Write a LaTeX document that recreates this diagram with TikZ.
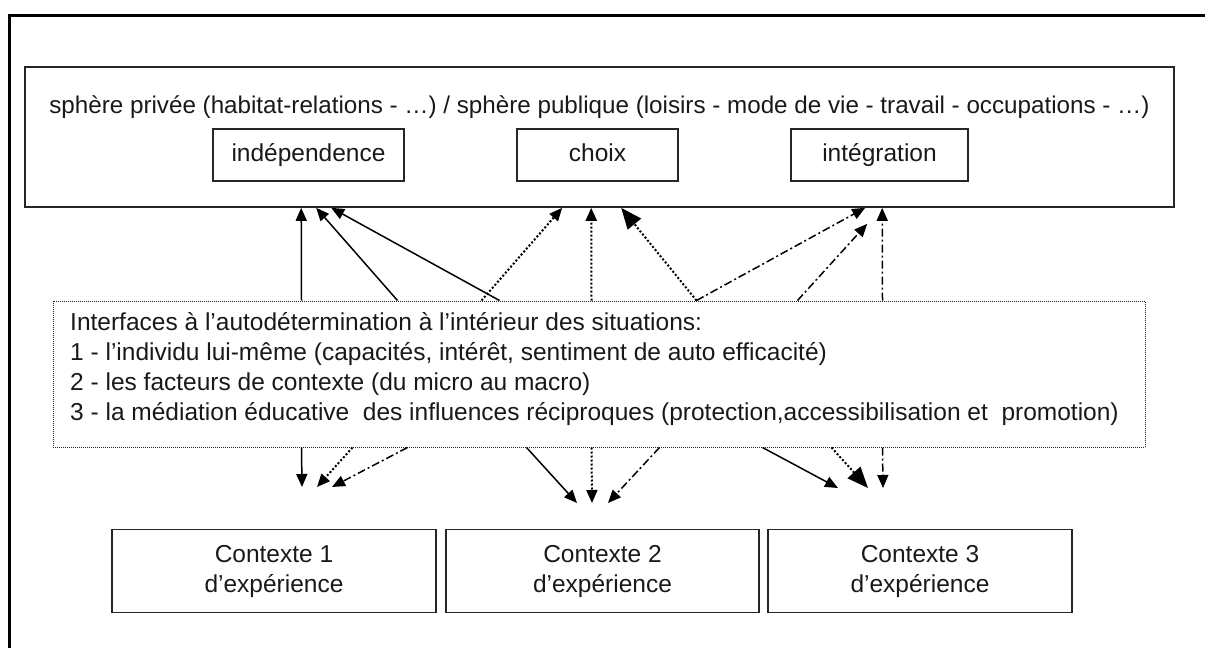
\documentclass[tikz,border=0pt]{standalone}
\usepackage{fontspec}
\setmainfont{Liberation Sans}
\usetikzlibrary{arrows.meta}
\begin{document}
\begin{tikzpicture}[x=1pt,y=-1pt,
  txt/.style={font=\fontsize{24.5}{30}\selectfont,text=black!90},
  box/.style={draw=black!85,line width=1.6pt,inner sep=0pt,txt},
  keybox/.style={box,minimum height=52pt,text height=18pt,text depth=5pt},
  solidarr/.style={line width=1.5pt,-{Triangle[length=13pt,width=11pt]}},
  dotarr/.style={line width=2pt,dash pattern=on 2pt off 2pt,-{Triangle[length=13pt,width=11pt]}},
  dotbig/.style={line width=2pt,dash pattern=on 2pt off 2pt,-{Triangle[length=21pt,width=17pt]}},
  dasharr/.style={line width=1.5pt,dash pattern=on 8pt off 3pt on 2pt off 3pt,-{Triangle[length=13pt,width=11pt]}},
]
\useasboundingbox (0,0) rectangle (1205,648);
% outer frame (left and top edges)
\draw[line width=3pt] (9,648) -- (9,15) -- (1205,15);

% upper box: spheres of life
\node[box,minimum width=1149pt,minimum height=140pt] (top) at (599.5,137) {};
\node[txt,font=\fontsize{24.2}{30}\selectfont,anchor=base] (title) at (599.5,113)
  {sphère privée (habitat-relations - …) / sphère publique (loisirs - mode de vie - travail - occupations - …)};
\node[keybox,minimum width=191pt] (indep) at (308.5,155) {indépendence};
\node[keybox,minimum width=161pt] (choix) at (597.5,155) {choix};
\node[keybox,minimum width=177pt] (integ) at (879.5,155) {intégration};

% middle dotted box: interfaces
\node[draw=black!85,line width=1pt,dash pattern=on 1pt off 1pt,
      minimum width=1092pt,minimum height=146pt,inner sep=0pt] (mid) at (599,374) {};
\node[txt,anchor=north west,align=left,inner sep=0pt] (inter) at (70,312)
  {Interfaces à l’autodétermination à l’intérieur des situations:\\
   1 - l’individu lui-même (capacités, intérêt, sentiment de auto efficacité)\\
   2 - les facteurs de contexte (du micro au macro)\\
   3 - la médiation éducative \ des influences réciproques (protection,accessibilisation et \ promotion)};

% lower boxes: contexts of experience
\node[box,minimum width=324pt,minimum height=83pt,align=center] (c1) at (274,571) {Contexte 1\\d’expérience};
\node[box,minimum width=313pt,minimum height=83pt,align=center] (c2) at (602.5,571) {Contexte 2\\d’expérience};
\node[box,minimum width=304pt,minimum height=83pt,align=center] (c3) at (920,571) {Contexte 3\\d’expérience};

% arrows from the interfaces up to the spheres
\draw[solidarr] ([xshift=249pt]mid.north west) -- ([xshift=277pt]top.south west);
\draw[solidarr] ([xshift=345pt]mid.north west) -- ([xshift=292pt]top.south west);
\draw[solidarr] ([xshift=447pt]mid.north west) -- ([xshift=307pt]top.south west);
\draw[dotarr]   ([xshift=429pt]mid.north west) -- ([xshift=538pt]top.south west);
\draw[dotarr]   ([xshift=539pt]mid.north west) -- ([xshift=567pt]top.south west);
\draw[dotbig]   ([xshift=644pt]mid.north west) -- ([xshift=597pt]top.south west);
\draw[dasharr]  ([xshift=644pt]mid.north west) -- ([xshift=841pt]top.south west);
\draw[dasharr]  ([xshift=745pt]mid.north west) -- ([xshift=843pt,yshift=-16pt]top.south west);
\draw[dasharr]  ([xshift=830pt]mid.north west) -- ([xshift=858pt]top.south west);

% arrow ends above the contexts
\coordinate (h1) at (302,487);
\coordinate (h2) at (317,487);
\coordinate (h3) at (332,487);
\coordinate (h4) at (577,503);
\coordinate (h5) at (592,503);
\coordinate (h6) at (608,503);
\coordinate (h7) at (838,488);
\coordinate (h8) at (868,488);
\coordinate (h9) at (883,488);

% arrows from the interfaces down towards the contexts
\draw[solidarr] ([xshift=249pt]mid.south west) -- (h1);
\draw[dotarr]   ([xshift=300pt]mid.south west) -- (h2);
\draw[dasharr]  ([xshift=355pt]mid.south west) -- (h3);
\draw[solidarr] ([xshift=474pt]mid.south west) -- (h4);
\draw[dotarr]   ([xshift=539pt]mid.south west) -- (h5);
\draw[dasharr]  ([xshift=607pt]mid.south west) -- (h6);
\draw[solidarr] ([xshift=710pt]mid.south west) -- (h7);
\draw[dotbig]   ([xshift=779pt]mid.south west) -- (h8);
\draw[dasharr]  ([xshift=830pt]mid.south west) -- (h9);
\end{tikzpicture}
\end{document}
